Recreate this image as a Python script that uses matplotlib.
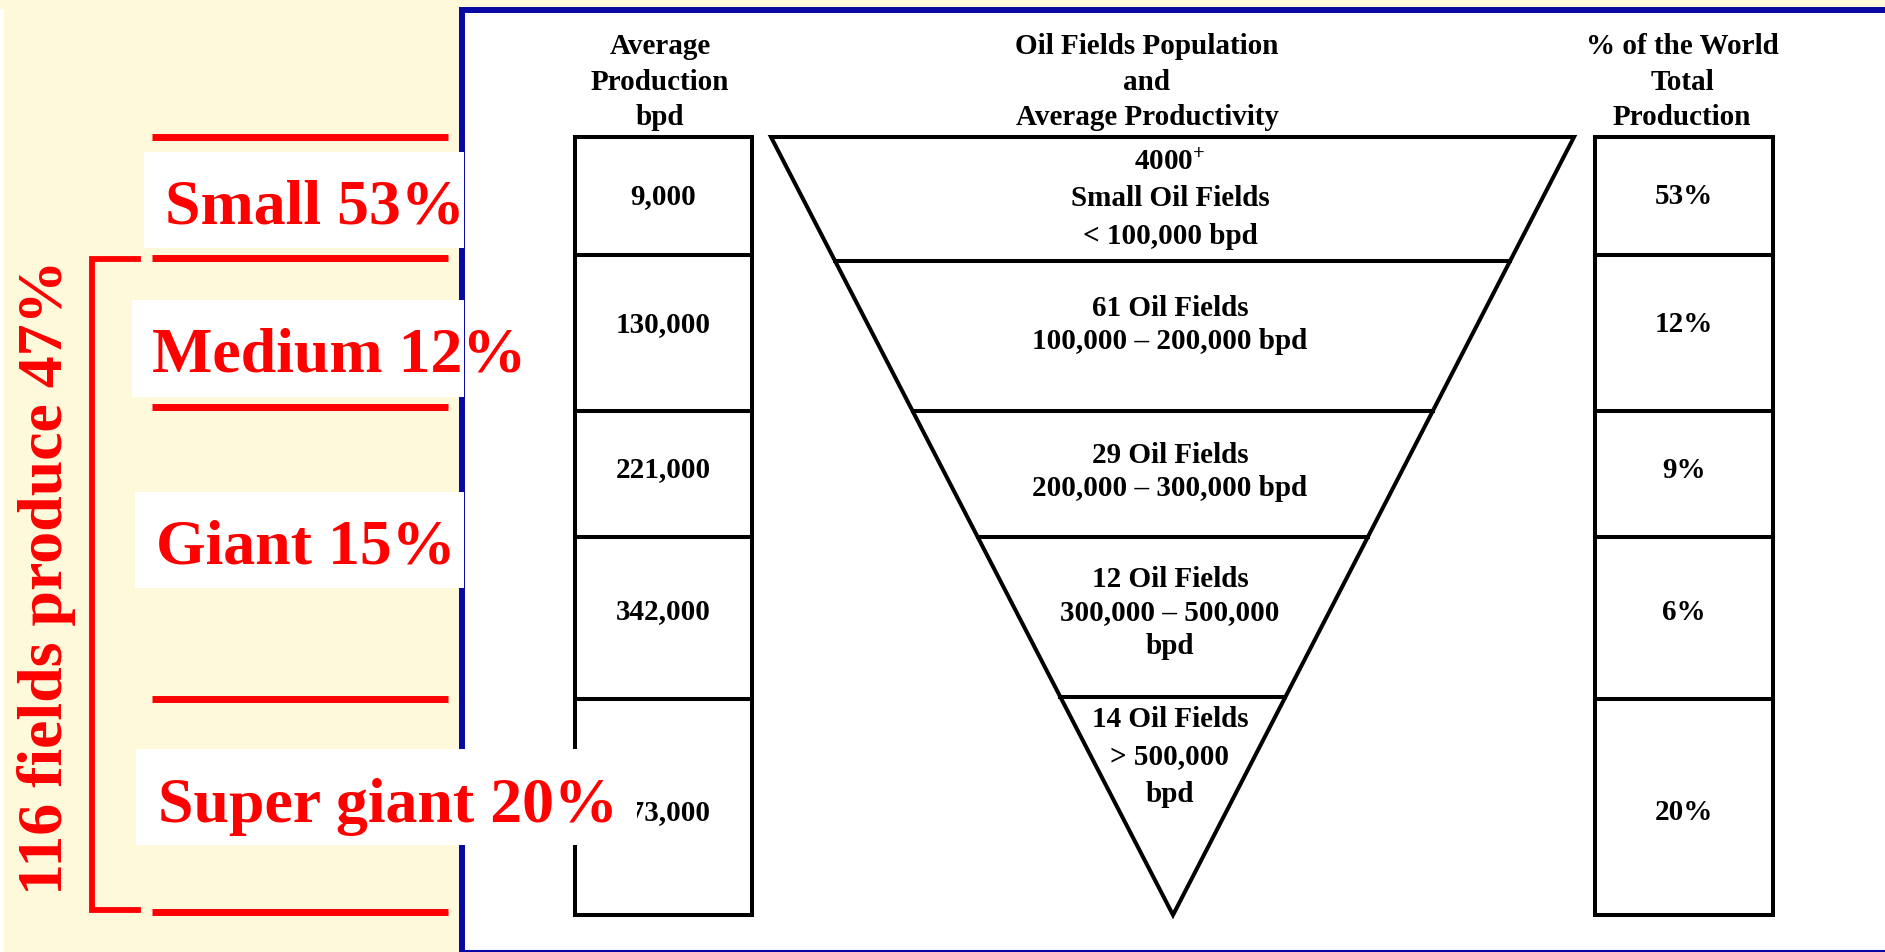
"""
Oil fields population vs. average productivity - funnel infographic.
"""

import matplotlib.pyplot as plt
from matplotlib.patches import Rectangle, Polygon
import numpy as np

plt.rcParams['mathtext.fontset'] = 'custom'
plt.rcParams['mathtext.rm'] = 'Liberation Serif:bold'
plt.rcParams['mathtext.it'] = 'Liberation Serif:bold'

# Data
avg_production = ['9,000', '130,000', '221,000', '342,000', '573,000']
world_share = [53, 12, 9, 6, 20]
field_labels = [
    '4000$^{+}$\nSmall Oil Fields\n< 100,000 bpd',
    '61 Oil Fields\n100,000 \u2013 200,000 bpd',
    '29 Oil Fields\n200,000 \u2013 300,000 bpd',
    '12 Oil Fields\n300,000 \u2013 500,000\nbpd',
    '14 Oil Fields\n> 500,000\nbpd',
]
group_names = ['Small', 'Medium', 'Giant', 'Super giant']
group_shares = [53, 12, 15, 20]
bracket_fields = 116
bracket_share = 47

headers = ['Average\nProduction\nbpd',
           'Oil Fields Population\nand\nAverage Productivity',
           '% of the World\nTotal\nProduction']

# Layout (pixels of a 1885x952 canvas)
W, H = 1885, 952
CREAM = '#FFF9DC'
BLUE = '#0808A4'
RED = '#FF0000'
SERIF = ['Liberation Serif', 'DejaVu Serif']

row_edges = [137, 255, 411, 537, 699, 915]
funnel_edges = [137, 261, 411, 537, 697, 915]
cell_y = [197, 325, 470, 612, 813]
funnel_y = [199, 325, 472, 613, 757]
funnel_spacing = [1.48, 1.28, 1.28, 1.33, 1.48]
left_box = (575, 752)
right_box = (1595, 1773)
funnel_top = (771, 1574)
apex_x = 1173

fig = plt.figure(figsize=(W / 100, H / 100), dpi=100)
fig.patch.set_facecolor('white')
ax = fig.add_axes([0, 0, 1, 1])
ax.set_xlim(0, W)
ax.set_ylim(H, 0)
ax.axis('off')

# Background panels and blue frame
ax.add_patch(Rectangle((4, 0), 458, H, facecolor=CREAM, edgecolor='none', zorder=0))
ax.add_patch(Rectangle((0, 0), W, 9, facecolor=CREAM, edgecolor='none', zorder=0))
ax.plot([462, 462], [7, H], color=BLUE, lw=4.3, solid_capstyle='butt', zorder=1)
ax.plot([459, W], [10, 10], color=BLUE, lw=4.3, solid_capstyle='butt', zorder=1)
ax.plot([462, W], [951, 951], color=BLUE, lw=1.5, solid_capstyle='butt', zorder=1)

LW = 2.9  # ~4 px

# Side columns
for (x0, x1) in (left_box, right_box):
    ax.add_patch(Rectangle((x0, row_edges[0]), x1 - x0, row_edges[-1] - row_edges[0],
                           fill=False, edgecolor='black', lw=LW, zorder=2))
    ax.hlines(row_edges[1:-1], x0, x1, color='black', lw=LW, zorder=2)

# Funnel
ax.add_patch(Polygon([(funnel_top[0], funnel_edges[0]), (funnel_top[1], funnel_edges[0]),
                      (apex_x, funnel_edges[-1])], closed=True, fill=False,
                     edgecolor='black', lw=LW, joinstyle='miter', zorder=2))
for y in funnel_edges[1:-1]:
    xl = np.interp(y, [funnel_edges[0], funnel_edges[-1]], [funnel_top[0], apex_x])
    xr = np.interp(y, [funnel_edges[0], funnel_edges[-1]], [funnel_top[1], apex_x])
    ax.plot([xl, xr], [y, y], color='black', lw=LW, zorder=2)

# Headers
for x, txt in zip([660, 1147, 1682], headers):
    ax.text(x, 82, txt, ha='center', va='center', fontsize=21, fontweight='bold',
            family=SERIF, linespacing=1.4, zorder=3)

# Cell texts
for y, val, share in zip(cell_y, avg_production, world_share):
    ax.text(663, y, val, ha='center', va='center', fontsize=21, fontweight='bold',
            family=SERIF, zorder=3)
    ax.text(1684, y, f'{share}%', ha='center', va='center', fontsize=21,
            fontweight='bold', family=SERIF, zorder=3)

for y, txt, ls in zip(funnel_y, field_labels, funnel_spacing):
    ax.text(1170, y, txt, ha='center', va='center', fontsize=21, fontweight='bold',
            family=SERIF, linespacing=ls, zorder=3)

# Left annotation: red rules, white label boxes, bracket
for y in [137, 258, 407, 699, 912]:
    ax.plot([152, 448], [y, y], color=RED, lw=5, solid_capstyle='butt', zorder=3)

label_boxes = [(144, 152, 320, 96), (132, 300, 332, 97), (135, 492, 329, 96), (136, 749, 501, 96)]
label_base = [224, 372, 564, 822]
label_x = [165, 152, 156, 158]
for (bx, by, bw, bh), name, share, x, yb in zip(label_boxes, group_names, group_shares,
                                                label_x, label_base):
    ax.add_patch(Rectangle((bx, by), bw, bh, facecolor='white', edgecolor='none', zorder=4))
    ax.text(x, yb, f'{name} {share}%', ha='left', va='baseline', fontsize=46,
            fontweight='bold', family=SERIF, color=RED, zorder=5)

ax.plot([138, 92, 92, 138], [259, 259, 910, 910], color=RED, lw=4.2,
        solid_joinstyle='miter', zorder=3)
ax.text(47, 577, f'{bracket_fields} fields produce {bracket_share}%', rotation=90,
        ha='center', va='center', fontsize=46, fontweight='bold', family=SERIF,
        color=RED, zorder=5)

plt.savefig('out.png', dpi=100, facecolor=fig.get_facecolor())
plt.close()
